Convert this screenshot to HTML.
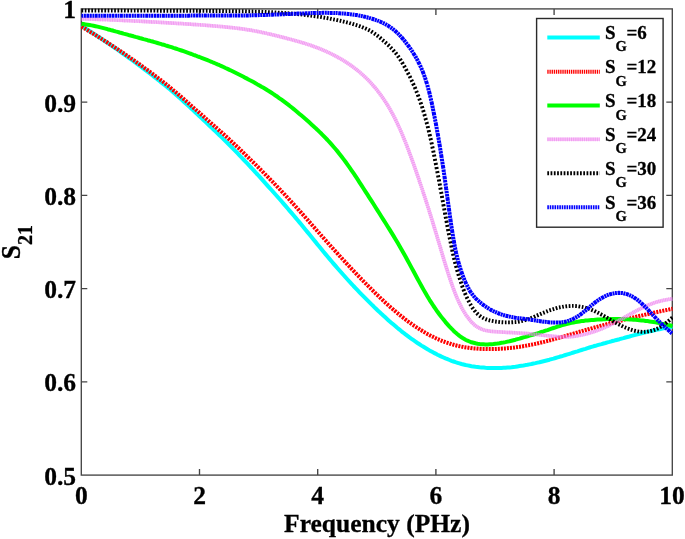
<!DOCTYPE html>
<html lang="en">
<head>
<meta charset="utf-8">
<title>S21 vs Frequency</title>
<style>
html,body{margin:0;padding:0;background:#fff;}
body{width:685px;height:539px;overflow:hidden;}
svg{display:block;}
text{font-family:"Liberation Serif","Times New Roman",serif;font-weight:bold;fill:#000;stroke:#000;stroke-width:0.3px;}
.tk{font-size:25.5px;}
.lg{font-size:19px;}
.lgs{font-size:14.5px;}
</style>
</head>
<body>
<svg width="685" height="539" viewBox="0 0 685 539">
<rect x="0" y="0" width="685" height="539" fill="#fff"/>
<defs><clipPath id="ax"><rect x="80.7" y="8.3" width="592.2" height="467.4"/></clipPath></defs>

<g stroke="#454545" stroke-width="1.35" fill="none">
<rect x="81.3" y="8.9" width="591.0" height="466.2"/>
<path d="M199.5 475.1v-6M199.5 8.9v6"/>
<path d="M317.7 475.1v-6M317.7 8.9v6"/>
<path d="M435.9 475.1v-6M435.9 8.9v6"/>
<path d="M554.1 475.1v-6M554.1 8.9v6"/>
<path d="M81.3 102.1h6M672.3 102.1h-6"/>
<path d="M81.3 195.4h6M672.3 195.4h-6"/>
<path d="M81.3 288.6h6M672.3 288.6h-6"/>
<path d="M81.3 381.9h6M672.3 381.9h-6"/>
</g>
<g clip-path="url(#ax)" fill="none" stroke-linejoin="round">
<path d="M81.5 25.9 L83.5 27.1 L85.5 28.4 L87.5 29.7 L89.5 31.0 L91.5 32.3 L93.5 33.6 L95.5 34.9 L97.5 36.2 L99.5 37.5 L101.5 38.8 L103.5 40.2 L105.5 41.5 L107.5 42.9 L109.5 44.2 L111.5 45.6 L113.5 47.0 L115.5 48.3 L117.5 49.7 L119.5 51.1 L121.5 52.6 L123.5 54.0 L125.5 55.4 L127.5 56.8 L129.5 58.3 L131.5 59.7 L133.5 61.2 L135.5 62.7 L137.5 64.2 L139.5 65.7 L141.5 67.1 L143.5 68.6 L145.5 70.2 L147.5 71.7 L149.5 73.2 L151.5 74.7 L153.5 76.3 L155.5 77.8 L157.5 79.4 L159.5 81.0 L161.5 82.6 L163.5 84.2 L165.5 85.8 L167.5 87.4 L169.5 89.1 L171.5 90.8 L173.5 92.5 L175.5 94.2 L177.5 96.0 L179.5 97.8 L181.5 99.6 L183.5 101.4 L185.5 103.2 L187.5 105.0 L189.5 106.9 L191.5 108.8 L193.5 110.6 L195.5 112.5 L197.5 114.4 L199.5 116.3 L201.5 118.1 L203.5 120.0 L205.5 121.9 L207.5 123.8 L209.5 125.7 L211.5 127.6 L213.5 129.5 L215.5 131.4 L217.5 133.3 L219.5 135.2 L221.5 137.1 L223.5 139.1 L225.5 141.1 L227.5 143.0 L229.5 145.0 L231.5 147.0 L233.5 149.1 L235.5 151.1 L237.5 153.2 L239.5 155.3 L241.5 157.4 L243.5 159.5 L245.5 161.6 L247.5 163.7 L249.5 165.9 L251.5 168.0 L253.5 170.2 L255.5 172.4 L257.5 174.5 L259.5 176.7 L261.5 178.9 L263.5 181.1 L265.5 183.3 L267.5 185.6 L269.5 187.8 L271.5 190.0 L273.5 192.3 L275.5 194.5 L277.5 196.8 L279.5 199.0 L281.5 201.3 L283.5 203.6 L285.5 205.9 L287.5 208.2 L289.5 210.6 L291.5 212.9 L293.5 215.3 L295.5 217.6 L297.5 220.0 L299.5 222.4 L301.5 224.8 L303.5 227.3 L305.5 229.7 L307.5 232.1 L309.5 234.6 L311.5 237.0 L313.5 239.5 L315.5 241.9 L317.5 244.4 L319.5 246.8 L321.5 249.3 L323.5 251.7 L325.5 254.1 L327.5 256.5 L329.5 258.9 L331.5 261.2 L333.5 263.6 L335.5 265.9 L337.5 268.2 L339.5 270.5 L341.5 272.8 L343.5 275.0 L345.5 277.3 L347.5 279.5 L349.5 281.7 L351.5 283.8 L353.5 286.0 L355.5 288.1 L357.5 290.2 L359.5 292.3 L361.5 294.4 L363.5 296.4 L365.5 298.4 L367.5 300.4 L369.5 302.4 L371.5 304.4 L373.5 306.3 L375.5 308.3 L377.5 310.2 L379.5 312.1 L381.5 313.9 L383.5 315.8 L385.5 317.6 L387.5 319.4 L389.5 321.2 L391.5 322.9 L393.5 324.6 L395.5 326.3 L397.5 328.0 L399.5 329.6 L401.5 331.3 L403.5 332.8 L405.5 334.4 L407.5 335.9 L409.5 337.4 L411.5 338.8 L413.5 340.2 L415.5 341.6 L417.5 343.0 L419.5 344.3 L421.5 345.6 L423.5 346.8 L425.5 348.0 L427.5 349.2 L429.5 350.4 L431.5 351.5 L433.5 352.6 L435.5 353.6 L437.5 354.7 L439.5 355.6 L441.5 356.6 L443.5 357.5 L445.5 358.4 L447.5 359.2 L449.5 360.0 L451.5 360.8 L453.5 361.5 L455.5 362.2 L457.5 362.8 L459.5 363.4 L461.5 364.0 L463.5 364.5 L465.5 365.0 L467.5 365.4 L469.5 365.8 L471.5 366.2 L473.5 366.5 L475.5 366.8 L477.5 367.0 L479.5 367.3 L481.5 367.5 L483.5 367.6 L485.5 367.8 L487.5 367.9 L489.5 368.0 L491.5 368.0 L493.5 368.0 L495.5 368.0 L497.5 368.0 L499.5 368.0 L501.5 367.9 L503.5 367.8 L505.5 367.7 L507.5 367.5 L509.5 367.4 L511.5 367.2 L513.5 366.9 L515.5 366.7 L517.5 366.4 L519.5 366.1 L521.5 365.8 L523.5 365.5 L525.5 365.1 L527.5 364.8 L529.5 364.4 L531.5 364.0 L533.5 363.5 L535.5 363.1 L537.5 362.6 L539.5 362.2 L541.5 361.7 L543.5 361.2 L545.5 360.7 L547.5 360.2 L549.5 359.7 L551.5 359.1 L553.5 358.6 L555.5 358.0 L557.5 357.4 L559.5 356.8 L561.5 356.3 L563.5 355.7 L565.5 355.0 L567.5 354.4 L569.5 353.8 L571.5 353.2 L573.5 352.5 L575.5 351.9 L577.5 351.3 L579.5 350.6 L581.5 350.0 L583.5 349.4 L585.5 348.8 L587.5 348.1 L589.5 347.5 L591.5 346.9 L593.5 346.3 L595.5 345.8 L597.5 345.2 L599.5 344.6 L601.5 344.1 L603.5 343.5 L605.5 343.0 L607.5 342.4 L609.5 341.9 L611.5 341.3 L613.5 340.8 L615.5 340.2 L617.5 339.7 L619.5 339.2 L621.5 338.6 L623.5 338.1 L625.5 337.5 L627.5 337.0 L629.5 336.5 L631.5 335.9 L633.5 335.4 L635.5 334.9 L637.5 334.4 L639.5 333.9 L641.5 333.4 L643.5 332.9 L645.5 332.4 L647.5 331.9 L649.5 331.4 L651.5 331.0 L653.5 330.5 L655.5 330.1 L657.5 329.6 L659.5 329.2 L661.5 328.8 L663.5 328.4 L665.5 328.0 L667.5 327.6 L669.5 327.2 L671.5 326.8 L672.5 326.6" stroke="#00ffff" stroke-width="4.0"/>
<path d="M81.5 26.6L83.4 27.7M84.3 28.2L86.1 29.3M87.0 29.9L88.9 31.0M89.8 31.6L91.6 32.7M92.5 33.2L94.4 34.4M95.3 34.9L97.1 36.1M98.0 36.6L99.9 37.8M100.8 38.4L102.6 39.5M103.5 40.1L105.3 41.2M106.2 41.8L108.1 43.0M108.9 43.6L110.8 44.8M111.7 45.3L113.5 46.5M114.4 47.1L116.2 48.3M117.1 48.9L118.9 50.1M119.8 50.7L121.6 51.9M122.5 52.5L124.3 53.7M125.2 54.3L127.0 55.6M127.9 56.2L129.7 57.4M130.6 58.0L132.4 59.3M133.3 59.9L135.1 61.1M135.9 61.8L137.7 63.0M138.6 63.6L140.4 64.9M141.3 65.5L143.1 66.8M143.9 67.5L145.7 68.8M146.6 69.4L148.4 70.7M149.2 71.3L151.0 72.6M151.9 73.3L153.7 74.6M154.5 75.3L156.3 76.6M157.1 77.3L158.9 78.6M159.8 79.3L161.5 80.6M162.4 81.3L164.1 82.7M165.0 83.4L166.7 84.8M167.6 85.4L169.3 86.8M170.1 87.5L171.9 89.0M172.7 89.7L174.4 91.1M175.3 91.8L177.0 93.2M177.8 94.0L179.5 95.4M180.3 96.1L182.0 97.6M182.9 98.3L184.6 99.8M185.4 100.5L187.1 102.0M187.9 102.7L189.6 104.2M190.4 105.0L192.1 106.5M192.9 107.2L194.6 108.7M195.5 109.4L197.1 110.9M198.0 111.6L199.7 113.1M200.5 113.9L202.2 115.3M203.0 116.1L204.7 117.6M205.5 118.3L207.2 119.8M208.0 120.5L209.7 122.0M210.6 122.7L212.3 124.2M213.1 124.9L214.8 126.4M215.6 127.1L217.3 128.6M218.1 129.4L219.8 130.9M220.6 131.6L222.3 133.1M223.1 133.8L224.8 135.3M225.6 136.1L227.3 137.6M228.1 138.3L229.8 139.9M230.6 140.6L232.3 142.2M233.1 142.9L234.7 144.5M235.5 145.2L237.2 146.8M238.0 147.6L239.7 149.1M240.5 149.9L242.1 151.5M242.9 152.2L244.5 153.8M245.3 154.6L247.0 156.2M247.8 157.0L249.4 158.6M250.2 159.3L251.8 160.9M252.6 161.7L254.3 163.3M255.1 164.1L256.7 165.7M257.5 166.5L259.1 168.1M259.9 168.9L261.5 170.5M262.3 171.3L263.9 173.0M264.7 173.8L266.3 175.4M267.1 176.2L268.7 177.8M269.5 178.6L271.1 180.3M271.9 181.1L273.5 182.7M274.2 183.5L275.8 185.2M276.6 186.0L278.2 187.7M279.0 188.5L280.6 190.2M281.3 191.0L282.9 192.7M283.7 193.5L285.3 195.2M286.0 196.0L287.6 197.7M288.4 198.5L289.9 200.2M290.7 201.1L292.3 202.8M293.0 203.6L294.6 205.3M295.4 206.2L296.9 207.9M297.7 208.7L299.2 210.5M300.0 211.3L301.5 213.1M302.3 213.9L303.8 215.6M304.6 216.5L306.1 218.2M306.9 219.1L308.4 220.8M309.1 221.7L310.7 223.4M311.4 224.3L313.0 226.0M313.7 226.9L315.3 228.6M316.0 229.5L317.5 231.2M318.3 232.1L319.8 233.8M320.6 234.7L322.1 236.4M322.9 237.3L324.4 239.0M325.2 239.9L326.7 241.6M327.5 242.5L329.0 244.2M329.8 245.1L331.3 246.8M332.1 247.6L333.6 249.3M334.4 250.2L336.0 251.9M336.7 252.7L338.3 254.5M339.0 255.3L340.6 257.0M341.4 257.8L342.9 259.5M343.7 260.4L345.3 262.1M346.0 262.9L347.6 264.6M348.4 265.4L350.0 267.1M350.7 267.9L352.3 269.6M353.1 270.4L354.7 272.1M355.5 272.9L357.0 274.6M357.8 275.4L359.4 277.0M360.2 277.9L361.8 279.5M362.6 280.3L364.2 282.0M365.0 282.8L366.6 284.4M367.4 285.2L369.0 286.8M369.8 287.6L371.4 289.2M372.2 290.0L373.8 291.6M374.6 292.4L376.2 294.0M377.0 294.8L378.7 296.3M379.5 297.1L381.1 298.7M382.0 299.4L383.6 301.0M384.4 301.7L386.1 303.2M386.9 304.0L388.6 305.5M389.4 306.2L391.1 307.7M392.0 308.4L393.7 309.9M394.5 310.6L396.2 312.1M397.0 312.8L398.8 314.2M399.6 314.9L401.3 316.3M402.2 316.9L404.0 318.3M404.8 319.0L406.6 320.3M407.4 321.0L409.2 322.3M410.1 322.9L411.9 324.2M412.8 324.8L414.6 326.0M415.5 326.6L417.3 327.8M418.2 328.4L420.0 329.6M420.9 330.1L422.8 331.2M423.7 331.8L425.5 332.9M426.4 333.4L428.3 334.4M429.2 334.9L431.1 335.9M432.1 336.4L434.0 337.3M434.9 337.8L436.8 338.7M437.8 339.1L439.7 339.9M440.7 340.3L442.6 341.1M443.6 341.5L445.5 342.2M446.5 342.6L448.5 343.2M449.5 343.5L451.4 344.2M452.4 344.4L454.4 345.0M455.4 345.2L457.4 345.7M458.4 346.0L460.4 346.4M461.4 346.6L463.4 347.0M464.4 347.2L466.4 347.5M467.4 347.6L469.4 347.9M470.4 348.0L472.5 348.3M473.5 348.4L475.5 348.5M476.5 348.6L478.5 348.8M479.5 348.8L481.6 348.9M482.6 349.0L484.6 349.0M485.6 349.0L487.7 349.1M488.7 349.1L490.7 349.1M491.7 349.0L493.8 349.0M494.8 349.0L496.8 348.9M497.8 348.9L499.8 348.8M500.8 348.7L502.9 348.6M503.9 348.5L505.9 348.4M506.9 348.3L508.9 348.1M509.9 348.0L512.0 347.8M513.0 347.7L515.0 347.4M516.0 347.3L518.0 347.0M519.0 346.9L521.0 346.6M522.0 346.4L524.1 346.1M525.1 345.9L527.1 345.5M528.1 345.3L530.1 345.0M531.1 344.8L533.1 344.4M534.1 344.1L536.1 343.7M537.1 343.5L539.1 343.0M540.1 342.8L542.1 342.3M543.1 342.1L545.1 341.6M546.1 341.3L548.1 340.8M549.0 340.6L551.0 340.0M552.0 339.8L554.0 339.2M555.0 338.9L557.0 338.4M558.0 338.1L560.0 337.5M560.9 337.2L562.9 336.7M563.9 336.4L565.9 335.8M566.9 335.5L568.9 334.9M569.8 334.6L571.8 334.1M572.8 333.8L574.8 333.2M575.8 332.9L577.8 332.3M578.7 332.0L580.7 331.5M581.7 331.2L583.7 330.6M584.7 330.3L586.7 329.8M587.6 329.5L589.6 328.9M590.6 328.7L592.6 328.1M593.6 327.8L595.6 327.3M596.6 327.0L598.6 326.5M599.5 326.2L601.5 325.6M602.5 325.4L604.5 324.8M605.5 324.6L607.5 324.0M608.5 323.8L610.5 323.3M611.5 323.0L613.5 322.5M614.4 322.2L616.4 321.7M617.4 321.4L619.4 320.9M620.4 320.7L622.4 320.2M623.4 319.9L625.4 319.4M626.4 319.2L628.4 318.7M629.4 318.4L631.4 317.9M632.4 317.7L634.4 317.2M635.3 317.0L637.4 316.5M638.3 316.3L640.3 315.8M641.3 315.6L643.3 315.1M644.3 314.9L646.3 314.4M647.3 314.2L649.3 313.7M650.3 313.5L652.3 313.1M653.3 312.8L655.3 312.4M656.3 312.2L658.3 311.8M659.3 311.5L661.3 311.1M662.3 310.9L664.3 310.5M665.3 310.3L667.3 309.9M668.3 309.6L670.3 309.2M671.3 309.0L672.5 308.8" stroke="#ff0000" stroke-width="4.0"/>
<path d="M81.5 23.8 L83.5 24.1 L85.5 24.4 L87.5 24.7 L89.5 25.0 L91.5 25.4 L93.5 25.8 L95.5 26.2 L97.5 26.6 L99.5 27.1 L101.5 27.6 L103.5 28.1 L105.5 28.6 L107.5 29.2 L109.5 29.7 L111.5 30.3 L113.5 30.8 L115.5 31.4 L117.5 31.9 L119.5 32.5 L121.5 33.0 L123.5 33.6 L125.5 34.1 L127.5 34.7 L129.5 35.3 L131.5 35.8 L133.5 36.3 L135.5 36.9 L137.5 37.4 L139.5 38.0 L141.5 38.5 L143.5 39.1 L145.5 39.6 L147.5 40.2 L149.5 40.7 L151.5 41.3 L153.5 41.8 L155.5 42.4 L157.5 43.0 L159.5 43.6 L161.5 44.2 L163.5 44.7 L165.5 45.4 L167.5 46.0 L169.5 46.6 L171.5 47.2 L173.5 47.9 L175.5 48.5 L177.5 49.2 L179.5 49.8 L181.5 50.5 L183.5 51.2 L185.5 51.9 L187.5 52.6 L189.5 53.3 L191.5 54.0 L193.5 54.8 L195.5 55.5 L197.5 56.3 L199.5 57.0 L201.5 57.8 L203.5 58.6 L205.5 59.4 L207.5 60.2 L209.5 61.0 L211.5 61.8 L213.5 62.7 L215.5 63.5 L217.5 64.4 L219.5 65.2 L221.5 66.1 L223.5 67.0 L225.5 68.0 L227.5 68.9 L229.5 69.9 L231.5 70.8 L233.5 71.8 L235.5 72.8 L237.5 73.8 L239.5 74.8 L241.5 75.8 L243.5 76.8 L245.5 77.9 L247.5 78.9 L249.5 80.0 L251.5 81.0 L253.5 82.1 L255.5 83.2 L257.5 84.4 L259.5 85.5 L261.5 86.7 L263.5 87.8 L265.5 89.0 L267.5 90.3 L269.5 91.5 L271.5 92.8 L273.5 94.1 L275.5 95.5 L277.5 96.8 L279.5 98.3 L281.5 99.7 L283.5 101.2 L285.5 102.7 L287.5 104.2 L289.5 105.7 L291.5 107.3 L293.5 108.9 L295.5 110.5 L297.5 112.2 L299.5 113.9 L301.5 115.6 L303.5 117.3 L305.5 119.0 L307.5 120.8 L309.5 122.6 L311.5 124.4 L313.5 126.2 L315.5 128.1 L317.5 129.9 L319.5 131.9 L321.5 133.8 L323.5 135.8 L325.5 137.9 L327.5 140.0 L329.5 142.2 L331.5 144.4 L333.5 146.7 L335.5 149.0 L337.5 151.4 L339.5 153.9 L341.5 156.5 L343.5 159.1 L345.5 161.8 L347.5 164.6 L349.5 167.4 L351.5 170.3 L353.5 173.2 L355.5 176.2 L357.5 179.2 L359.5 182.3 L361.5 185.4 L363.5 188.5 L365.5 191.6 L367.5 194.7 L369.5 197.8 L371.5 200.9 L373.5 204.0 L375.5 207.2 L377.5 210.3 L379.5 213.5 L381.5 216.7 L383.5 219.8 L385.5 223.0 L387.5 226.2 L389.5 229.4 L391.5 232.6 L393.5 235.9 L395.5 239.2 L397.5 242.6 L399.5 246.0 L401.5 249.5 L403.5 253.0 L405.5 256.5 L407.5 260.2 L409.5 263.9 L411.5 267.6 L413.5 271.3 L415.5 275.0 L417.5 278.7 L419.5 282.4 L421.5 286.0 L423.5 289.6 L425.5 293.1 L427.5 296.5 L429.5 299.8 L431.5 302.9 L433.5 306.0 L435.5 308.9 L437.5 311.8 L439.5 314.5 L441.5 317.1 L443.5 319.6 L445.5 322.1 L447.5 324.4 L449.5 326.6 L451.5 328.7 L453.5 330.7 L455.5 332.6 L457.5 334.3 L459.5 335.9 L461.5 337.3 L463.5 338.6 L465.5 339.7 L467.5 340.7 L469.5 341.5 L471.5 342.3 L473.5 342.8 L475.5 343.3 L477.5 343.7 L479.5 344.0 L481.5 344.2 L483.5 344.3 L485.5 344.4 L487.5 344.4 L489.5 344.3 L491.5 344.2 L493.5 344.0 L495.5 343.7 L497.5 343.5 L499.5 343.2 L501.5 342.8 L503.5 342.5 L505.5 342.1 L507.5 341.6 L509.5 341.2 L511.5 340.7 L513.5 340.2 L515.5 339.7 L517.5 339.1 L519.5 338.6 L521.5 338.0 L523.5 337.4 L525.5 336.9 L527.5 336.3 L529.5 335.7 L531.5 335.1 L533.5 334.5 L535.5 333.9 L537.5 333.3 L539.5 332.7 L541.5 332.0 L543.5 331.4 L545.5 330.7 L547.5 330.1 L549.5 329.4 L551.5 328.7 L553.5 328.0 L555.5 327.4 L557.5 326.7 L559.5 326.1 L561.5 325.4 L563.5 324.9 L565.5 324.3 L567.5 323.8 L569.5 323.3 L571.5 322.9 L573.5 322.5 L575.5 322.1 L577.5 321.7 L579.5 321.4 L581.5 321.1 L583.5 320.9 L585.5 320.6 L587.5 320.4 L589.5 320.2 L591.5 320.0 L593.5 319.9 L595.5 319.7 L597.5 319.6 L599.5 319.5 L601.5 319.4 L603.5 319.3 L605.5 319.2 L607.5 319.1 L609.5 319.0 L611.5 319.0 L613.5 319.0 L615.5 319.0 L617.5 319.0 L619.5 319.0 L621.5 319.1 L623.5 319.1 L625.5 319.2 L627.5 319.3 L629.5 319.4 L631.5 319.5 L633.5 319.7 L635.5 319.8 L637.5 320.0 L639.5 320.2 L641.5 320.4 L643.5 320.6 L645.5 320.9 L647.5 321.1 L649.5 321.4 L651.5 321.7 L653.5 322.0 L655.5 322.4 L657.5 322.8 L659.5 323.1 L661.5 323.6 L663.5 324.0 L665.5 324.4 L667.5 324.9 L669.5 325.3 L671.5 325.8 L672.5 326.1" stroke="#00ff00" stroke-width="4.0"/>
<path d="M81.5 18.8 L83.5 18.8 L85.5 18.9 L87.5 19.0 L89.5 19.0 L91.5 19.1 L93.5 19.2 L95.5 19.2 L97.5 19.3 L99.5 19.4 L101.5 19.5 L103.5 19.6 L105.5 19.6 L107.5 19.7 L109.5 19.8 L111.5 19.9 L113.5 20.0 L115.5 20.1 L117.5 20.2 L119.5 20.2 L121.5 20.3 L123.5 20.4 L125.5 20.5 L127.5 20.6 L129.5 20.7 L131.5 20.8 L133.5 20.9 L135.5 21.0 L137.5 21.1 L139.5 21.2 L141.5 21.3 L143.5 21.5 L145.5 21.6 L147.5 21.7 L149.5 21.8 L151.5 21.9 L153.5 22.0 L155.5 22.1 L157.5 22.2 L159.5 22.3 L161.5 22.5 L163.5 22.6 L165.5 22.7 L167.5 22.8 L169.5 22.9 L171.5 23.0 L173.5 23.2 L175.5 23.3 L177.5 23.4 L179.5 23.5 L181.5 23.6 L183.5 23.8 L185.5 23.9 L187.5 24.0 L189.5 24.1 L191.5 24.3 L193.5 24.4 L195.5 24.5 L197.5 24.7 L199.5 24.8 L201.5 25.0 L203.5 25.1 L205.5 25.3 L207.5 25.4 L209.5 25.6 L211.5 25.7 L213.5 25.9 L215.5 26.1 L217.5 26.2 L219.5 26.4 L221.5 26.6 L223.5 26.8 L225.5 27.0 L227.5 27.2 L229.5 27.4 L231.5 27.6 L233.5 27.8 L235.5 28.1 L237.5 28.3 L239.5 28.5 L241.5 28.8 L243.5 29.1 L245.5 29.4 L247.5 29.7 L249.5 30.0 L251.5 30.3 L253.5 30.7 L255.5 31.1 L257.5 31.4 L259.5 31.8 L261.5 32.3 L263.5 32.7 L265.5 33.1 L267.5 33.6 L269.5 34.0 L271.5 34.5 L273.5 35.0 L275.5 35.5 L277.5 36.0 L279.5 36.5 L281.5 37.0 L283.5 37.5 L285.5 38.0 L287.5 38.5 L289.5 39.1 L291.5 39.6 L293.5 40.1 L295.5 40.7 L297.5 41.3 L299.5 41.8 L301.5 42.4 L303.5 43.0 L305.5 43.6 L307.5 44.3 L309.5 44.9 L311.5 45.6 L313.5 46.3 L315.5 47.1 L317.5 47.8 L319.5 48.6 L321.5 49.4 L323.5 50.3 L325.5 51.1 L327.5 52.1 L329.5 53.0 L331.5 54.0 L333.5 55.0 L335.5 56.0 L337.5 57.1 L339.5 58.2 L341.5 59.3 L343.5 60.5 L345.5 61.8 L347.5 63.1 L349.5 64.4 L351.5 65.8 L353.5 67.3 L355.5 68.8 L357.5 70.4 L359.5 72.0 L361.5 73.7 L363.5 75.5 L365.5 77.4 L367.5 79.3 L369.5 81.4 L371.5 83.6 L373.5 85.8 L375.5 88.2 L377.5 90.7 L379.5 93.3 L381.5 96.0 L383.5 98.9 L385.5 101.9 L387.5 105.1 L389.5 108.4 L391.5 112.0 L393.5 115.7 L395.5 119.6 L397.5 123.7 L399.5 128.1 L401.5 132.6 L403.5 137.4 L405.5 142.4 L407.5 147.6 L409.5 152.9 L411.5 158.4 L413.5 163.9 L415.5 169.6 L417.5 175.4 L419.5 181.3 L421.5 187.2 L423.5 193.2 L425.5 199.3 L427.5 205.5 L429.5 211.8 L431.5 218.2 L433.5 224.8 L435.5 231.4 L437.5 238.1 L439.5 244.8 L441.5 251.5 L443.5 258.2 L445.5 264.8 L447.5 271.3 L449.5 277.5 L451.5 283.4 L453.5 289.0 L455.5 294.2 L457.5 299.0 L459.5 303.4 L461.5 307.4 L463.5 311.0 L465.5 314.2 L467.5 317.0 L469.5 319.6 L471.5 322.0 L473.5 324.0 L475.5 325.7 L477.5 327.1 L479.5 328.2 L481.5 329.1 L483.5 329.9 L485.5 330.4 L487.5 330.8 L489.5 331.1 L491.5 331.4 L493.5 331.5 L495.5 331.7 L497.5 331.8 L499.5 331.9 L501.5 332.0 L503.5 332.2 L505.5 332.3 L507.5 332.4 L509.5 332.5 L511.5 332.6 L513.5 332.7 L515.5 332.8 L517.5 332.9 L519.5 333.1 L521.5 333.2 L523.5 333.3 L525.5 333.5 L527.5 333.6 L529.5 333.8 L531.5 334.0 L533.5 334.2 L535.5 334.4 L537.5 334.6 L539.5 334.8 L541.5 335.0 L543.5 335.3 L545.5 335.5 L547.5 335.7 L549.5 335.9 L551.5 336.1 L553.5 336.4 L555.5 336.5 L557.5 336.7 L559.5 336.8 L561.5 336.9 L563.5 337.0 L565.5 336.9 L567.5 336.9 L569.5 336.8 L571.5 336.6 L573.5 336.4 L575.5 336.1 L577.5 335.8 L579.5 335.4 L581.5 335.0 L583.5 334.6 L585.5 334.1 L587.5 333.6 L589.5 333.0 L591.5 332.4 L593.5 331.8 L595.5 331.1 L597.5 330.4 L599.5 329.6 L601.5 328.8 L603.5 328.0 L605.5 327.1 L607.5 326.2 L609.5 325.3 L611.5 324.3 L613.5 323.3 L615.5 322.3 L617.5 321.2 L619.5 320.1 L621.5 319.1 L623.5 318.0 L625.5 316.8 L627.5 315.7 L629.5 314.6 L631.5 313.5 L633.5 312.4 L635.5 311.3 L637.5 310.3 L639.5 309.2 L641.5 308.2 L643.5 307.2 L645.5 306.3 L647.5 305.4 L649.5 304.6 L651.5 303.8 L653.5 303.1 L655.5 302.4 L657.5 301.8 L659.5 301.2 L661.5 300.8 L663.5 300.3 L665.5 299.9 L667.5 299.6 L669.5 299.2 L671.5 298.9 L672.5 298.8" stroke="#ee82ee" stroke-opacity="0.4" stroke-width="3.5"/>
<path d="M81.5 18.8L82.5 18.8M83.2 18.8L84.2 18.8M84.9 18.9L85.9 18.9M86.6 18.9L87.6 19.0M88.3 19.0L89.3 19.0M90.0 19.0L91.0 19.1M91.7 19.1L92.7 19.1M93.4 19.2L94.4 19.2M95.0 19.2L96.1 19.3M96.7 19.3L97.8 19.3M98.4 19.4L99.5 19.4M100.1 19.4L101.2 19.5M101.8 19.5L102.9 19.5M103.5 19.6L104.6 19.6M105.2 19.6L106.2 19.7M106.9 19.7L107.9 19.7M108.6 19.8L109.6 19.8M110.3 19.8L111.3 19.9M112.0 19.9L113.0 20.0M113.7 20.0L114.7 20.0M115.4 20.1L116.4 20.1M117.1 20.1L118.1 20.2M118.8 20.2L119.8 20.3M120.4 20.3L121.5 20.3M122.1 20.4L123.2 20.4M123.8 20.5L124.9 20.5M125.5 20.5L126.6 20.6M127.2 20.6L128.3 20.7M128.9 20.7L129.9 20.8M130.6 20.8L131.6 20.8M132.3 20.9L133.3 20.9M134.0 21.0L135.0 21.0M135.7 21.0L136.7 21.1M137.4 21.1L138.4 21.2M139.1 21.2L140.1 21.3M140.8 21.3L141.8 21.4M142.4 21.4L143.5 21.5M144.1 21.5L145.2 21.5M145.8 21.6L146.9 21.6M147.5 21.7L148.6 21.7M149.2 21.8L150.3 21.8M150.9 21.9L152.0 21.9M152.6 21.9L153.6 22.0M154.3 22.0L155.3 22.1M156.0 22.1L157.0 22.2M157.7 22.2L158.7 22.3M159.4 22.3L160.4 22.4M161.1 22.4L162.1 22.5M162.8 22.5L163.8 22.6M164.5 22.6L165.5 22.7M166.1 22.7L167.2 22.8M167.8 22.8L168.9 22.9M169.5 22.9L170.6 23.0M171.2 23.0L172.3 23.1M172.9 23.1L174.0 23.2M174.6 23.2L175.6 23.3M176.3 23.3L177.3 23.4M178.0 23.4L179.0 23.5M179.7 23.5L180.7 23.6M181.4 23.6L182.4 23.7M183.1 23.7L184.1 23.8M184.8 23.8L185.8 23.9M186.4 24.0L187.5 24.0M188.1 24.1L189.2 24.1M189.8 24.2L190.9 24.2M191.5 24.3L192.6 24.4M193.2 24.4L194.3 24.5M194.9 24.5L195.9 24.6M196.6 24.6L197.6 24.7M198.3 24.7L199.3 24.8M200.0 24.9L201.0 24.9M201.7 25.0L202.7 25.1M203.4 25.1L204.4 25.2M205.1 25.2L206.1 25.3M206.7 25.4L207.8 25.4M208.4 25.5L209.5 25.6M210.1 25.6L211.2 25.7M211.8 25.8L212.9 25.9M213.5 25.9L214.5 26.0M215.2 26.0L216.2 26.1M216.9 26.2L217.9 26.3M218.6 26.3L219.6 26.4M220.3 26.5L221.3 26.6M222.0 26.6L223.0 26.7M223.7 26.8L224.7 26.9M225.3 27.0L226.4 27.1M227.0 27.1L228.1 27.2M228.7 27.3L229.8 27.4M230.4 27.5L231.4 27.6M232.1 27.7L233.1 27.8M233.8 27.9L234.8 28.0M235.5 28.0L236.5 28.2M237.2 28.3L238.2 28.4M238.8 28.5L239.9 28.6M240.5 28.7L241.6 28.8M242.2 28.9L243.2 29.0M243.9 29.1L244.9 29.3M245.6 29.4L246.6 29.5M247.3 29.6L248.3 29.8M248.9 29.9L250.0 30.1M250.6 30.2L251.7 30.4M252.3 30.5L253.3 30.7M254.0 30.8L255.0 31.0M255.7 31.1L256.7 31.3M257.3 31.4L258.4 31.6M259.0 31.7L260.0 32.0M260.7 32.1L261.7 32.3M262.4 32.4L263.4 32.7M264.0 32.8L265.1 33.0M265.7 33.2L266.7 33.4M267.4 33.6L268.4 33.8M269.0 33.9L270.1 34.2M270.7 34.3L271.7 34.6M272.4 34.7L273.4 35.0M274.0 35.1L275.1 35.4M275.7 35.5L276.7 35.8M277.4 35.9L278.4 36.2M279.0 36.4L280.0 36.6M280.7 36.8L281.7 37.0M282.3 37.2L283.4 37.5M284.0 37.6L285.0 37.9M285.7 38.1L286.7 38.3M287.3 38.5L288.4 38.8M289.0 38.9L290.0 39.2M290.7 39.4L291.7 39.6M292.3 39.8L293.3 40.1M294.0 40.3L295.0 40.6M295.6 40.7L296.6 41.0M297.3 41.2L298.3 41.5M298.9 41.7L300.0 42.0M300.6 42.2L301.6 42.5M302.2 42.6L303.3 43.0M303.9 43.1L304.9 43.5M305.5 43.7L306.5 44.0M307.2 44.2L308.2 44.5M308.8 44.7L309.8 45.1M310.5 45.3L311.5 45.6M312.1 45.8L313.1 46.2M313.7 46.4L314.7 46.8M315.4 47.0L316.4 47.4M317.0 47.6L318.0 48.0M318.6 48.2L319.6 48.6M320.2 48.9L321.2 49.3M321.9 49.6L322.8 50.0M323.5 50.2L324.4 50.7M325.1 50.9L326.0 51.4M326.7 51.7L327.6 52.1M328.3 52.4L329.2 52.9M329.8 53.2L330.8 53.6M331.4 53.9L332.4 54.4M333.0 54.7L334.0 55.2M334.6 55.5L335.6 56.0M336.2 56.4L337.1 56.9M337.7 57.2L338.7 57.7M339.3 58.1L340.2 58.6M340.8 59.0L341.8 59.5M342.4 59.9L343.3 60.4M343.9 60.8L344.9 61.4M345.4 61.8L346.4 62.4M347.0 62.7L347.9 63.3M348.5 63.7L349.4 64.4M350.0 64.8L350.9 65.4M351.5 65.8L352.4 66.5M352.9 66.9L353.8 67.5M354.4 68.0L355.3 68.6M355.9 69.1L356.8 69.8M357.3 70.2L358.2 70.9M358.8 71.4L359.6 72.1M360.2 72.6L361.0 73.3M361.6 73.8L362.4 74.6M363.0 75.0L363.8 75.8M364.4 76.3L365.2 77.1M365.7 77.6L366.6 78.4M367.1 78.9L367.9 79.8M368.4 80.3L369.2 81.1M369.7 81.7L370.5 82.5M371.0 83.1L371.8 83.9M372.3 84.5L373.1 85.4M373.6 86.0L374.4 86.9M374.9 87.4L375.6 88.4M376.1 88.9L376.8 89.9M377.3 90.5L378.1 91.4M378.5 92.0L379.2 93.0M379.7 93.6L380.4 94.6M380.9 95.2L381.6 96.2M382.0 96.8L382.7 97.8M383.2 98.4L383.9 99.4M384.3 100.1L385.0 101.1M385.4 101.7L386.0 102.8M386.5 103.4L387.1 104.5M387.5 105.1L388.2 106.2M388.6 106.9L389.2 107.9M389.6 108.6L390.2 109.7M390.6 110.4L391.2 111.5M391.6 112.2L392.2 113.3M392.6 114.0L393.2 115.1M393.5 115.8L394.1 116.9M394.5 117.6L395.1 118.7M395.4 119.4L396.0 120.6M396.3 121.3L396.9 122.4M397.2 123.2L397.8 124.3M398.1 125.0L398.6 126.2M399.0 126.9L399.5 128.1M399.8 128.8L400.4 130.0M400.7 130.7L401.2 131.9M401.5 132.7L402.0 133.8M402.3 134.6L402.8 135.8M403.1 136.5L403.6 137.7M403.9 138.5L404.4 139.7M404.7 140.4L405.2 141.6M405.5 142.4L406.0 143.6M406.3 144.3L406.7 145.5M407.0 146.3L407.5 147.5M407.8 148.3L408.2 149.5M408.5 150.2L409.0 151.5M409.2 152.2L409.7 153.4M410.0 154.2L410.4 155.4M410.7 156.2L411.2 157.4M411.4 158.2L411.9 159.4M412.2 160.2L412.6 161.4M412.9 162.2L413.3 163.4M413.6 164.2L414.0 165.4M414.3 166.2L414.7 167.4M415.0 168.2L415.4 169.4M415.7 170.2L416.1 171.4M416.4 172.2L416.8 173.4M417.1 174.2L417.5 175.4M417.8 176.2L418.2 177.4M418.5 178.2L418.9 179.4M419.1 180.2L419.6 181.4M419.8 182.2L420.2 183.5M420.5 184.2L420.9 185.5M421.2 186.3L421.6 187.5M421.9 188.3L422.3 189.5M422.5 190.3L422.9 191.5M423.2 192.3L423.6 193.6M423.9 194.3L424.3 195.6M424.5 196.4L424.9 197.6M425.2 198.4L425.6 199.6M425.8 200.4L426.3 201.7M426.5 202.4L426.9 203.7M427.2 204.5L427.6 205.7M427.8 206.5L428.2 207.8M428.5 208.5L428.9 209.8M429.1 210.6L429.5 211.8M429.7 212.6L430.1 213.9M430.4 214.6L430.8 215.9M431.0 216.7L431.4 217.9M431.7 218.7L432.0 220.0M432.3 220.8L432.7 222.0M432.9 222.8L433.3 224.1M433.5 224.9L433.9 226.1M434.2 226.9L434.5 228.2M434.8 229.0L435.2 230.2M435.4 231.0L435.8 232.3M436.0 233.0L436.4 234.3M436.6 235.1L437.0 236.4M437.2 237.2L437.6 238.4M437.8 239.2L438.2 240.5M438.5 241.3L438.8 242.5M439.1 243.3L439.4 244.6M439.7 245.4L440.0 246.6M440.3 247.4L440.7 248.7M440.9 249.5L441.3 250.7M441.5 251.5L441.9 252.8M442.1 253.6L442.5 254.8M442.7 255.6L443.1 256.9M443.3 257.7L443.7 258.9M443.9 259.7L444.3 261.0M444.6 261.8L444.9 263.0M445.2 263.8L445.6 265.1M445.8 265.9L446.2 267.1M446.4 267.9L446.8 269.2M447.1 269.9L447.5 271.2M447.7 272.0L448.1 273.2M448.4 274.0L448.8 275.3M449.0 276.0L449.4 277.3M449.7 278.1L450.1 279.3M450.4 280.1L450.8 281.3M451.1 282.1L451.5 283.3M451.7 284.1L452.2 285.3M452.4 286.1L452.9 287.3M453.2 288.1L453.6 289.3M453.9 290.1L454.4 291.3M454.6 292.1L455.1 293.3M455.4 294.0L455.9 295.2M456.2 296.0L456.7 297.2M457.0 297.9L457.5 299.1M457.8 299.8L458.4 301.0M458.7 301.7L459.2 302.9M459.6 303.6L460.1 304.7M460.5 305.5L461.1 306.6M461.4 307.3L462.0 308.4M462.4 309.1L463.0 310.2M463.4 310.8L464.0 311.9M464.5 312.6L465.1 313.6M465.5 314.3L466.2 315.3M466.7 315.9L467.4 316.9M467.8 317.5L468.6 318.5M469.0 319.1L469.8 320.0M470.3 320.6L471.0 321.5M471.5 322.0L472.3 322.9M472.9 323.4L473.7 324.2M474.2 324.7L475.1 325.4M475.7 325.9L476.6 326.5M477.2 326.9L478.1 327.5M478.7 327.8L479.7 328.3M480.3 328.6L481.3 329.0M481.9 329.3L482.9 329.6M483.5 329.9L484.5 330.2M485.2 330.3L486.2 330.6M486.8 330.7L487.9 330.9M488.5 331.0L489.6 331.1M490.2 331.2L491.2 331.3M491.9 331.4L492.9 331.5M493.6 331.6L494.6 331.6M495.3 331.7L496.3 331.7M497.0 331.8L498.0 331.9M498.7 331.9L499.7 332.0M500.4 332.0L501.4 332.0M502.0 332.1L503.1 332.1M503.7 332.2L504.8 332.2M505.4 332.3L506.5 332.3M507.1 332.3L508.2 332.4M508.8 332.4L509.9 332.5M510.5 332.5L511.5 332.6M512.2 332.6L513.2 332.7M513.9 332.7L514.9 332.8M515.6 332.8L516.6 332.9M517.3 332.9L518.3 333.0M519.0 333.0L520.0 333.1M520.7 333.1L521.7 333.2M522.4 333.3L523.4 333.3M524.0 333.4L525.1 333.5M525.7 333.5L526.8 333.6M527.4 333.6L528.5 333.7M529.1 333.8L530.2 333.9M530.8 333.9L531.8 334.0M532.5 334.1L533.5 334.2M534.2 334.3L535.2 334.4M535.9 334.4L536.9 334.5M537.6 334.6L538.6 334.7M539.3 334.8L540.3 334.9M540.9 335.0L542.0 335.1M542.6 335.2L543.7 335.3M544.3 335.3L545.4 335.5M546.0 335.5L547.0 335.7M547.7 335.7L548.7 335.8M549.4 335.9L550.4 336.0M551.1 336.1L552.1 336.2M552.8 336.3L553.8 336.4M554.4 336.4L555.5 336.5M556.1 336.6L557.2 336.7M557.8 336.7L558.9 336.8M559.5 336.8L560.6 336.9M561.2 336.9L562.3 336.9M562.9 337.0L563.9 337.0M564.6 337.0L565.6 336.9M566.3 336.9L567.3 336.9M568.0 336.9L569.0 336.8M569.7 336.8L570.7 336.7M571.4 336.6L572.4 336.5M573.1 336.4L574.1 336.3M574.7 336.2L575.8 336.1M576.4 336.0L577.5 335.8M578.1 335.7L579.1 335.5M579.8 335.4L580.8 335.2M581.5 335.0L582.5 334.8M583.1 334.7L584.1 334.4M584.8 334.3L585.8 334.0M586.5 333.8L587.5 333.6M588.1 333.4L589.1 333.1M589.8 332.9L590.8 332.6M591.4 332.4L592.4 332.1M593.1 331.9L594.1 331.6M594.7 331.4L595.7 331.0M596.3 330.8L597.3 330.4M598.0 330.2L599.0 329.8M599.6 329.6L600.6 329.2M601.2 329.0L602.2 328.5M602.8 328.3L603.8 327.9M604.4 327.6L605.4 327.2M606.0 326.9L607.0 326.4M607.6 326.2L608.6 325.7M609.2 325.4L610.2 324.9M610.8 324.6L611.8 324.2M612.4 323.8L613.4 323.4M614.0 323.0L615.0 322.6M615.6 322.2L616.5 321.7M617.1 321.4L618.1 320.9M618.7 320.6L619.7 320.1M620.3 319.7L621.2 319.2M621.8 318.9L622.8 318.4M623.4 318.0L624.3 317.5M624.9 317.2L625.9 316.6M626.5 316.3L627.5 315.8M628.1 315.4L629.0 314.9M629.6 314.6L630.6 314.0M631.2 313.7L632.1 313.2M632.7 312.8L633.7 312.3M634.3 312.0L635.2 311.5M635.9 311.1L636.8 310.6M637.4 310.3L638.4 309.8M639.0 309.5L640.0 309.0M640.6 308.7L641.5 308.2M642.1 307.9L643.1 307.4M643.7 307.1L644.7 306.7M645.3 306.4L646.3 305.9M646.9 305.6L647.9 305.2M648.5 305.0L649.5 304.5M650.2 304.3L651.2 303.9M651.8 303.7L652.8 303.3M653.4 303.1L654.4 302.7M655.1 302.5L656.1 302.2M656.7 302.0L657.7 301.7M658.4 301.6L659.4 301.3M660.0 301.1L661.0 300.9M661.7 300.7L662.7 300.5M663.4 300.3L664.4 300.1M665.0 300.0L666.1 299.8M666.7 299.7L667.7 299.5M668.4 299.4L669.4 299.2M670.1 299.1L671.1 299.0M671.7 298.9L672.5 298.8" stroke="#ee82ee" stroke-width="3.8" stroke-opacity="0.66"/>
<path d="M81.5 10.5L83.2 10.5M84.8 10.5L86.4 10.5M88.0 10.5L89.7 10.5M91.3 10.5L93.0 10.5M94.6 10.5L96.2 10.5M97.9 10.5L99.5 10.5M101.1 10.5L102.8 10.5M104.4 10.5L106.1 10.5M107.7 10.5L109.3 10.5M111.0 10.5L112.6 10.5M114.2 10.5L115.9 10.5M117.5 10.5L119.2 10.5M120.8 10.5L122.4 10.5M124.0 10.5L125.7 10.6M127.3 10.6L129.0 10.6M130.6 10.6L132.2 10.6M133.9 10.6L135.5 10.6M137.1 10.6L138.8 10.6M140.4 10.6L142.1 10.6M143.7 10.6L145.3 10.6M146.9 10.6L148.6 10.6M150.2 10.6L151.9 10.6M153.5 10.6L155.2 10.6M156.8 10.6L158.4 10.7M160.0 10.7L161.7 10.7M163.3 10.7L165.0 10.7M166.6 10.7L168.2 10.7M169.9 10.7L171.5 10.7M173.1 10.7L174.8 10.7M176.4 10.7L178.1 10.7M179.7 10.8L181.3 10.8M182.9 10.8L184.6 10.8M186.2 10.8L187.9 10.8M189.5 10.8L191.1 10.8M192.8 10.8L194.4 10.8M196.0 10.9L197.7 10.9M199.3 10.9L201.0 10.9M202.6 10.9L204.2 10.9M205.9 10.9L207.5 10.9M209.1 10.9L210.8 11.0M212.4 11.0L214.1 11.0M215.7 11.0L217.3 11.0M218.9 11.0L220.6 11.0M222.2 11.0L223.9 11.1M225.5 11.1L227.1 11.1M228.8 11.1L230.4 11.1M232.0 11.1L233.7 11.2M235.3 11.2L237.0 11.2M238.6 11.2L240.2 11.2M241.9 11.3L243.5 11.3M245.1 11.3L246.8 11.4M248.4 11.4L250.1 11.4M251.7 11.5L253.3 11.5M254.9 11.6L256.6 11.6M258.2 11.7L259.9 11.7M261.5 11.8L263.1 11.9M264.8 11.9L266.4 12.0M268.0 12.1L269.7 12.2M271.3 12.2L272.9 12.3M274.6 12.4L276.2 12.5M277.8 12.6L279.5 12.7M281.1 12.8L282.8 12.9M284.4 13.0L286.0 13.2M287.6 13.3L289.3 13.4M290.9 13.5L292.6 13.7M294.2 13.8L295.8 14.0M297.4 14.1L299.1 14.3M300.7 14.4L302.3 14.6M304.0 14.8L305.6 15.0M307.2 15.2L308.9 15.4M310.5 15.6L312.1 15.8M313.7 16.0L315.4 16.2M317.0 16.5L318.6 16.7M320.2 16.9L321.9 17.2M323.5 17.5L325.1 17.8M326.7 18.0L328.4 18.3M330.0 18.6L331.6 19.0M333.2 19.3L334.8 19.6M336.4 19.9L338.1 20.3M339.7 20.6L341.3 21.0M342.9 21.4L344.5 21.8M346.1 22.2L347.7 22.6M349.3 23.0L350.9 23.5M352.5 23.9L354.1 24.4M355.7 24.9L357.3 25.4M358.9 25.9L360.5 26.5M362.0 27.0L363.6 27.7M365.1 28.3L366.7 29.0M368.2 29.7L369.8 30.5M371.2 31.3L372.7 32.3M374.2 33.3L375.6 34.3M377.0 35.4L378.4 36.5M379.8 37.6L381.2 38.8M382.5 40.0L383.9 41.1M385.2 42.3L386.6 43.5M387.9 44.7L389.3 46.0M390.5 47.3L391.8 48.6M393.1 50.0L394.3 51.4M395.5 52.8L396.7 54.3M397.8 55.8L398.9 57.4M400.0 59.0L401.0 60.7M402.0 62.3L403.0 64.1M404.0 65.7L405.0 67.5M405.9 69.2L406.8 71.0M407.7 72.7L408.7 74.5M409.6 76.2L410.5 78.0M411.3 79.8L412.2 81.6M413.0 83.4L413.9 85.3M414.7 87.1L415.5 89.0M416.2 90.9L417.0 92.8M417.7 94.6L418.5 96.6M419.2 98.5L419.9 100.4M420.5 102.3L421.2 104.3M421.9 106.2L422.5 108.2M423.1 110.1L423.7 112.1M424.3 114.1L424.9 116.1M425.4 118.1L426.0 120.1M426.5 122.1L427.1 124.1M427.6 126.1L428.1 128.1M428.6 130.1L429.1 132.2M429.6 134.2L430.0 136.3M430.5 138.3L431.0 140.3M431.4 142.4L431.9 144.4M432.3 146.5L432.7 148.5M433.2 150.6L433.6 152.6M434.0 154.7L434.4 156.7M434.8 158.8L435.2 160.9M435.6 162.9L436.1 165.0M436.4 167.0L436.8 169.1M437.2 171.1L437.6 173.2M438.0 175.3L438.4 177.3M438.8 179.4L439.2 181.5M439.6 183.5L440.0 185.6M440.3 187.6L440.7 189.7M441.1 191.8L441.5 193.9M441.8 195.9L442.2 198.0M442.6 200.1L443.0 202.1M443.3 204.2L443.7 206.3M444.1 208.3L444.5 210.4M444.9 212.5L445.2 214.6M445.6 216.6L446.0 218.7M446.4 220.7L446.8 222.8M447.2 224.9L447.5 226.9M447.9 229.0L448.3 231.1M448.7 233.1L449.1 235.2M449.5 237.2L450.0 239.3M450.4 241.3L450.8 243.4M451.2 245.4L451.6 247.5M452.1 249.5L452.5 251.6M453.0 253.6L453.4 255.7M453.9 257.7L454.4 259.8M454.9 261.8L455.4 263.8M455.9 265.8L456.5 267.8M457.0 269.8L457.6 271.8M458.2 273.8L458.8 275.8M459.4 277.7L460.1 279.7M460.7 281.6L461.4 283.6M462.0 285.5L462.7 287.5M463.4 289.3L464.2 291.3M464.9 293.1L465.7 295.0M466.5 296.8L467.4 298.7M468.3 300.4L469.2 302.2M470.1 303.9L471.1 305.6M472.1 307.3L473.2 308.9M474.3 310.4L475.5 311.9M476.8 313.2L478.1 314.5M479.5 315.6L480.9 316.7M482.4 317.6L483.9 318.4M485.4 319.1L487.0 319.7M488.6 320.2L490.2 320.6M491.8 320.9L493.5 321.2M495.1 321.5L496.7 321.7M498.3 321.9L500.0 322.1M501.6 322.2L503.2 322.3M504.9 322.4L506.5 322.4M508.1 322.4L509.8 322.4M511.4 322.3L513.1 322.2M514.7 322.1L516.3 322.0M517.9 321.8L519.6 321.5M521.2 321.2L522.8 320.9M524.4 320.5L526.0 320.0M527.6 319.4L529.2 318.9M530.7 318.3L532.3 317.6M533.8 317.0L535.4 316.3M536.9 315.6L538.5 314.9M540.0 314.3L541.6 313.6M543.1 312.9L544.7 312.3M546.3 311.6L547.8 311.0M549.4 310.4L551.0 309.9M552.6 309.3L554.2 308.8M555.7 308.4L557.4 307.9M559.0 307.5L560.6 307.2M562.2 306.9L563.8 306.6M565.4 306.4L567.1 306.2M568.7 306.1L570.4 306.0M572.0 305.9L573.6 305.9M575.2 306.0L576.9 306.1M578.5 306.3L580.2 306.6M581.8 306.9L583.4 307.2M585.0 307.6L586.6 308.1M588.2 308.6L589.8 309.1M591.3 309.7L592.9 310.4M594.4 311.0L596.0 311.8M597.5 312.5L599.0 313.3M600.5 314.1L602.1 314.9M603.5 315.7L605.1 316.6M606.5 317.5L608.1 318.3M609.5 319.2L611.0 320.1M612.5 320.9L614.0 321.8M615.5 322.6L617.0 323.5M618.5 324.3L620.1 325.1M621.6 325.8L623.1 326.6M624.7 327.3L626.2 327.9M627.8 328.5L629.4 329.1M630.9 329.7L632.5 330.2M634.1 330.6L635.8 331.0M637.4 331.3L639.0 331.6M640.6 331.8L642.3 331.9M643.9 331.9L645.5 331.8M647.1 331.7L648.8 331.4M650.4 331.1L652.0 330.7M653.6 330.2L655.2 329.6M656.7 328.9L658.3 328.2M659.7 327.4L661.2 326.5M662.7 325.5L664.1 324.5M665.5 323.4L667.0 322.3M668.3 321.2L669.7 320.0M671.0 318.8L672.4 317.6" stroke="#000000" stroke-width="3.9"/>
<path d="M81.5 15.7L83.4 15.7M84.0 15.7L85.9 15.7M86.4 15.7L87.9 15.7L89.4 15.7M89.9 15.7L91.8 15.7M92.4 15.7L94.3 15.7M94.8 15.7L96.3 15.7L97.7 15.7M98.3 15.7L100.2 15.7M100.7 15.7L102.7 15.7M103.2 15.7L104.7 15.7L106.1 15.7M106.7 15.7L108.6 15.7M109.1 15.7L111.1 15.7M111.6 15.7L113.1 15.7L114.5 15.7M115.1 15.7L117.0 15.7M117.5 15.7L119.5 15.7M120.0 15.7L121.5 15.7L122.9 15.7M123.5 15.7L125.4 15.7M125.9 15.7L127.9 15.7M128.4 15.7L129.9 15.7L131.3 15.7M131.9 15.7L133.8 15.7M134.3 15.7L136.2 15.7M136.8 15.7L138.2 15.7L139.7 15.7M140.3 15.7L142.2 15.7M142.7 15.7L144.6 15.7M145.2 15.7L146.6 15.7L148.1 15.7M148.6 15.7L150.6 15.7M151.1 15.7L153.0 15.7M153.6 15.7L155.0 15.7L156.5 15.7M157.0 15.7L159.0 15.7M159.5 15.7L161.4 15.7M162.0 15.7L163.4 15.7L164.9 15.7M165.4 15.7L167.4 15.7M167.9 15.7L169.8 15.7M170.4 15.7L171.8 15.7L173.3 15.7M173.8 15.7L175.7 15.7M176.3 15.7L178.2 15.7M178.8 15.7L180.2 15.7L181.7 15.7M182.2 15.7L184.1 15.7M184.7 15.7L186.6 15.7M187.1 15.7L188.6 15.7L190.1 15.6M190.6 15.6L192.5 15.6M193.1 15.6L195.0 15.6M195.5 15.6L197.0 15.6L198.5 15.6M199.0 15.6L200.9 15.6M201.5 15.6L203.4 15.6M203.9 15.6L205.4 15.6L206.9 15.6M207.4 15.6L209.3 15.6M209.9 15.6L211.8 15.6M212.3 15.6L213.8 15.6L215.2 15.6M215.8 15.6L217.7 15.6M218.3 15.6L220.2 15.6M220.7 15.6L222.2 15.6L223.6 15.6M224.2 15.6L226.1 15.6M226.6 15.6L228.6 15.5M229.1 15.5L230.6 15.5L232.0 15.5M232.6 15.5L234.5 15.5M235.0 15.5L237.0 15.5M237.5 15.5L239.0 15.5L240.4 15.5M241.0 15.5L242.9 15.4M243.4 15.4L245.4 15.4M245.9 15.4L247.4 15.4L248.8 15.4M249.4 15.4L251.3 15.3M251.8 15.3L253.7 15.3M254.3 15.3L255.7 15.2L257.2 15.2M257.8 15.2L259.7 15.1M260.2 15.1L262.1 15.0M262.7 15.0L264.1 15.0L265.6 14.9M266.1 14.9L268.1 14.8M268.6 14.8L270.5 14.8M271.1 14.7L272.5 14.7L274.0 14.6M274.5 14.6L276.5 14.5M277.0 14.5L278.9 14.4M279.5 14.4L280.9 14.3L282.4 14.3M282.9 14.3L284.8 14.2M285.4 14.1L287.3 14.1M287.8 14.0L289.3 14.0L290.8 13.9M291.3 13.9L293.2 13.8M293.8 13.8L295.7 13.7M296.2 13.7L297.7 13.6L299.2 13.6M299.7 13.6L301.6 13.5M302.2 13.5L304.1 13.4M304.6 13.4L306.1 13.3L307.5 13.3M308.1 13.2L310.0 13.2M310.5 13.1L312.5 13.1M313.0 13.1L314.5 13.0L315.9 13.0M316.5 13.0L318.4 12.9M318.9 12.9L320.9 12.9M321.4 12.9L322.9 12.8L324.3 12.8M324.9 12.8L326.8 12.8M327.3 12.8L329.3 12.9M329.8 12.9L331.3 12.9L332.7 12.9M333.3 12.9L335.2 13.0M335.7 13.0L337.6 13.1M338.2 13.2L339.6 13.3L341.1 13.4M341.6 13.4L343.6 13.5M344.1 13.6L346.0 13.8M346.6 13.8L348.0 14.0L349.5 14.1M350.0 14.2L351.9 14.4M352.5 14.5L354.4 14.8M354.9 14.9L356.4 15.1L357.8 15.3M358.4 15.4L360.3 15.8M360.8 15.9L362.7 16.3M363.2 16.4L364.7 16.7L366.1 17.1M366.6 17.2L368.5 17.7M369.0 17.8L370.9 18.4M371.5 18.6L372.9 19.0L374.3 19.5M374.8 19.7L376.7 20.3M377.2 20.5L379.0 21.2M379.5 21.4L380.9 22.0L382.3 22.6M382.8 22.9L384.6 23.7M385.1 24.0L386.9 25.0M387.4 25.3L388.7 26.1L390.0 27.0M390.5 27.3L392.2 28.5M392.6 28.9L394.3 30.2M394.7 30.5L396.0 31.6L397.2 32.7M397.6 33.1L399.1 34.6M399.5 35.0L401.0 36.7M401.4 37.1L402.5 38.4L403.6 39.7M404.0 40.1L405.4 41.9M405.7 42.4L407.1 44.2M407.5 44.7L408.5 46.0L409.5 47.4M409.9 47.9L411.1 49.8M411.5 50.3L412.8 52.2M413.1 52.7L414.0 54.2L414.9 55.7M415.3 56.3L416.4 58.3M416.7 58.8L417.8 60.9M418.1 61.5L418.9 63.1L419.7 64.7M420.0 65.3L421.0 67.4M421.2 68.0L422.2 70.2M422.4 70.8L423.1 72.5L423.8 74.2M424.0 74.8L424.8 77.1M425.0 77.7L425.8 80.0M426.0 80.7L426.5 82.4L427.1 84.2M427.3 84.9L427.9 87.2M428.1 87.9L428.7 90.2M428.9 90.9L429.4 92.7L429.8 94.5M430.0 95.2L430.5 97.6M430.7 98.3L431.2 100.7M431.4 101.3L431.8 103.2L432.2 105.0M432.3 105.7L432.8 108.1M432.9 108.7L433.4 111.2M433.6 111.8L433.9 113.7L434.3 115.5M434.4 116.2L434.9 118.6M435.0 119.3L435.5 121.7M435.6 122.4L436.0 124.3L436.3 126.1M436.4 126.8L436.9 129.2M437.0 129.9L437.4 132.3M437.6 133.0L437.9 134.9L438.2 136.7M438.3 137.4L438.8 139.8M438.9 140.5L439.3 143.0M439.4 143.7L439.7 145.5L440.0 147.4M440.1 148.1L440.5 150.5M440.6 151.2L441.0 153.6M441.1 154.3L441.4 156.2L441.7 158.0M441.8 158.7L442.2 161.2M442.3 161.9L442.7 164.3M442.8 165.0L443.1 166.9L443.4 168.7M443.5 169.4L443.8 171.9M443.9 172.6L444.3 175.0M444.4 175.7L444.6 177.6L444.9 179.4M445.0 180.1L445.3 182.6M445.4 183.3L445.8 185.7M445.9 186.4L446.1 188.3L446.4 190.2M446.5 190.9L446.8 193.3M446.9 194.0L447.3 196.5M447.3 197.2L447.6 199.0L447.9 200.9M447.9 201.6L448.3 204.1M448.4 204.7L448.7 207.2M448.8 207.9L449.1 209.8L449.3 211.6M449.4 212.3L449.8 214.8M449.9 215.5L450.2 217.9M450.3 218.6L450.6 220.5L450.8 222.4M450.9 223.0L451.3 225.5M451.4 226.2L451.8 228.6M451.9 229.3L452.2 231.2L452.5 233.0M452.6 233.7L453.0 236.2M453.1 236.9L453.5 239.3M453.6 240.0L454.0 241.8L454.3 243.7M454.4 244.4L454.9 246.8M455.0 247.5L455.5 249.9M455.7 250.6L456.0 252.4L456.4 254.2M456.6 254.9L457.2 257.3M457.3 258.0L457.9 260.3M458.1 261.0L458.6 262.8L459.1 264.6M459.3 265.2L460.0 267.5M460.2 268.2L461.0 270.5M461.2 271.1L461.8 272.9L462.4 274.6M462.6 275.2L463.5 277.4M463.7 278.1L464.6 280.3M464.9 280.9L465.6 282.5L466.4 284.2M466.7 284.8L467.7 286.9M468.0 287.5L469.1 289.5M469.4 290.1L470.3 291.6L471.3 293.0M471.6 293.5L473.0 295.3M473.4 295.8L474.8 297.5M475.2 297.9L476.4 299.1L477.5 300.2M478.0 300.6L479.6 302.0M480.0 302.4L481.7 303.7M482.1 304.1L483.4 305.0L484.7 305.9M485.1 306.3L486.9 307.4M487.3 307.7L489.1 308.8M489.6 309.1L490.9 309.9L492.3 310.6M492.8 310.8L494.6 311.7M495.1 311.9L496.9 312.7M497.4 312.9L498.8 313.5L500.2 314.0M500.7 314.2L502.6 314.8M503.1 315.0L505.0 315.5M505.5 315.7L507.0 316.0L508.4 316.4M508.9 316.5L510.8 316.9M511.4 317.0L513.3 317.3M513.8 317.4L515.3 317.7L516.7 317.9M517.3 318.0L519.2 318.2M519.7 318.3L521.6 318.5M522.2 318.6L523.6 318.8L525.1 319.0M525.6 319.0L527.5 319.3M528.1 319.3L530.0 319.6M530.5 319.7L532.0 319.9L533.4 320.1M534.0 320.2L535.9 320.5M536.4 320.6L538.3 320.9M538.8 321.0L540.3 321.2L541.8 321.4M542.3 321.5L544.2 321.8M544.7 321.8L546.7 322.0M547.2 322.1L548.7 322.2L550.1 322.4M550.7 322.4L552.6 322.5M553.1 322.6L555.0 322.6M555.6 322.6L557.0 322.6L558.5 322.6M559.0 322.6L561.0 322.4M561.5 322.4L563.4 322.1M564.0 322.0L565.4 321.7L566.8 321.4M567.4 321.2L569.2 320.6M569.7 320.4L571.6 319.7M572.1 319.5L573.5 318.8L574.8 318.1M575.3 317.8L577.1 316.8M577.6 316.5L579.3 315.3M579.7 315.0L581.0 314.1L582.3 313.1M582.7 312.7L584.4 311.4M584.8 311.1L586.5 309.7M586.9 309.3L588.1 308.3L589.3 307.2M589.8 306.8L591.4 305.5M591.9 305.1L593.5 303.7M593.9 303.4L595.2 302.4L596.5 301.4M596.9 301.1L598.6 299.9M599.1 299.6L600.8 298.5M601.3 298.2L602.7 297.4L604.0 296.7M604.5 296.5L606.3 295.6M606.8 295.4L608.7 294.7M609.2 294.5L610.6 294.1L612.1 293.7M612.6 293.6L614.5 293.2M615.0 293.1L616.9 292.9M617.5 292.9L618.9 292.8L620.4 292.9M620.9 292.9L622.9 293.1M623.4 293.2L625.3 293.7M625.8 293.8L627.2 294.2L628.7 294.8M629.2 295.0L631.0 295.8M631.5 296.1L633.3 297.0M633.7 297.3L635.0 298.2L636.3 299.1M636.8 299.4L638.5 300.7M638.9 301.1L640.5 302.5M641.0 302.9L642.2 304.0L643.3 305.1M643.8 305.5L645.3 307.0M645.7 307.4L647.2 309.0M647.7 309.4L648.8 310.6L649.9 311.8M650.3 312.3L651.8 313.9M652.2 314.3L653.7 315.9M654.2 316.3L655.3 317.5L656.4 318.7M656.8 319.2L658.4 320.7M658.8 321.2L660.3 322.7M660.7 323.1L661.9 324.3L663.1 325.4M663.5 325.8L665.1 327.3M665.5 327.7L667.1 329.1M667.5 329.5L668.8 330.5L670.0 331.6M670.4 332.0L672.0 333.4M672.5 333.7L672.5 333.8" stroke="#0000ff" stroke-width="4.0"/>
</g>
<g class="tk" text-anchor="middle">
<text x="81.3" y="504">0</text>
<text x="199.5" y="504">2</text>
<text x="317.7" y="504">4</text>
<text x="435.9" y="504">6</text>
<text x="554.1" y="504">8</text>
<text x="672.1" y="504">10</text>
</g>
<g class="tk" text-anchor="end">
<text x="76.1" y="18.3">1</text>
<text x="76.1" y="111.5">0.9</text>
<text x="76.1" y="204.8">0.8</text>
<text x="76.1" y="298.0">0.7</text>
<text x="76.1" y="391.3">0.6</text>
<text x="76.1" y="484.5">0.5</text>
</g>
<text class="tk" x="377" y="532.2" text-anchor="middle">Frequency (PHz)</text>
<g class="tk" transform="translate(19.7 259.3) rotate(-90)"><text transform="scale(1 1.1)" stroke="#000" stroke-width="0.35">S</text><text font-size="20px" x="14.2" y="12.3">21</text></g>
<rect x="536.6" y="18.5" width="126.5" height="208.7" fill="#fff" stroke="#2a2a2a" stroke-width="1.4"/>
<path d="M547.3 37.4H599.8" stroke="#00ffff" stroke-width="4.0" fill="none"/>
<text class="lg" x="605" y="39.0">S<tspan class="lgs" dx="0" dy="12.4">G</tspan><tspan dx="-0.3" dy="-12.4">=6</tspan></text>
<path d="M547.3 71.7H599.8" stroke="#ff0000" stroke-width="4.0" fill="none" stroke-dasharray="1.35 0.8"/>
<text class="lg" x="605" y="73.3">S<tspan class="lgs" dx="0" dy="12.4">G</tspan><tspan dx="-0.3" dy="-12.4">=12</tspan></text>
<path d="M547.3 105.5H599.8" stroke="#00ff00" stroke-width="4.0" fill="none"/>
<text class="lg" x="605" y="107.1">S<tspan class="lgs" dx="0" dy="12.4">G</tspan><tspan dx="-0.3" dy="-12.4">=18</tspan></text>
<path d="M547.3 139.3H599.8" stroke="#ee82ee" stroke-opacity="0.4" stroke-width="3.5" fill="none"/>
<path d="M547.3 139.3H599.8" stroke="#ee82ee" stroke-width="3.8" fill="none" stroke-dasharray="1.3 0.85" stroke-opacity="0.66"/>
<text class="lg" x="605" y="140.9">S<tspan class="lgs" dx="0" dy="12.4">G</tspan><tspan dx="-0.3" dy="-12.4">=24</tspan></text>
<path d="M547.3 173.3H599.8" stroke="#000000" stroke-width="3.9" fill="none" stroke-dasharray="1.75 1.52"/>
<text class="lg" x="605" y="174.9">S<tspan class="lgs" dx="0" dy="12.4">G</tspan><tspan dx="-0.3" dy="-12.4">=30</tspan></text>
<path d="M547.3 207.2H599.8" stroke="#0000ff" stroke-width="4.0" fill="none" stroke-dasharray="1.6 0.8"/>
<text class="lg" x="605" y="208.8">S<tspan class="lgs" dx="0" dy="12.4">G</tspan><tspan dx="-0.3" dy="-12.4">=36</tspan></text>
</svg>
</body>
</html>
